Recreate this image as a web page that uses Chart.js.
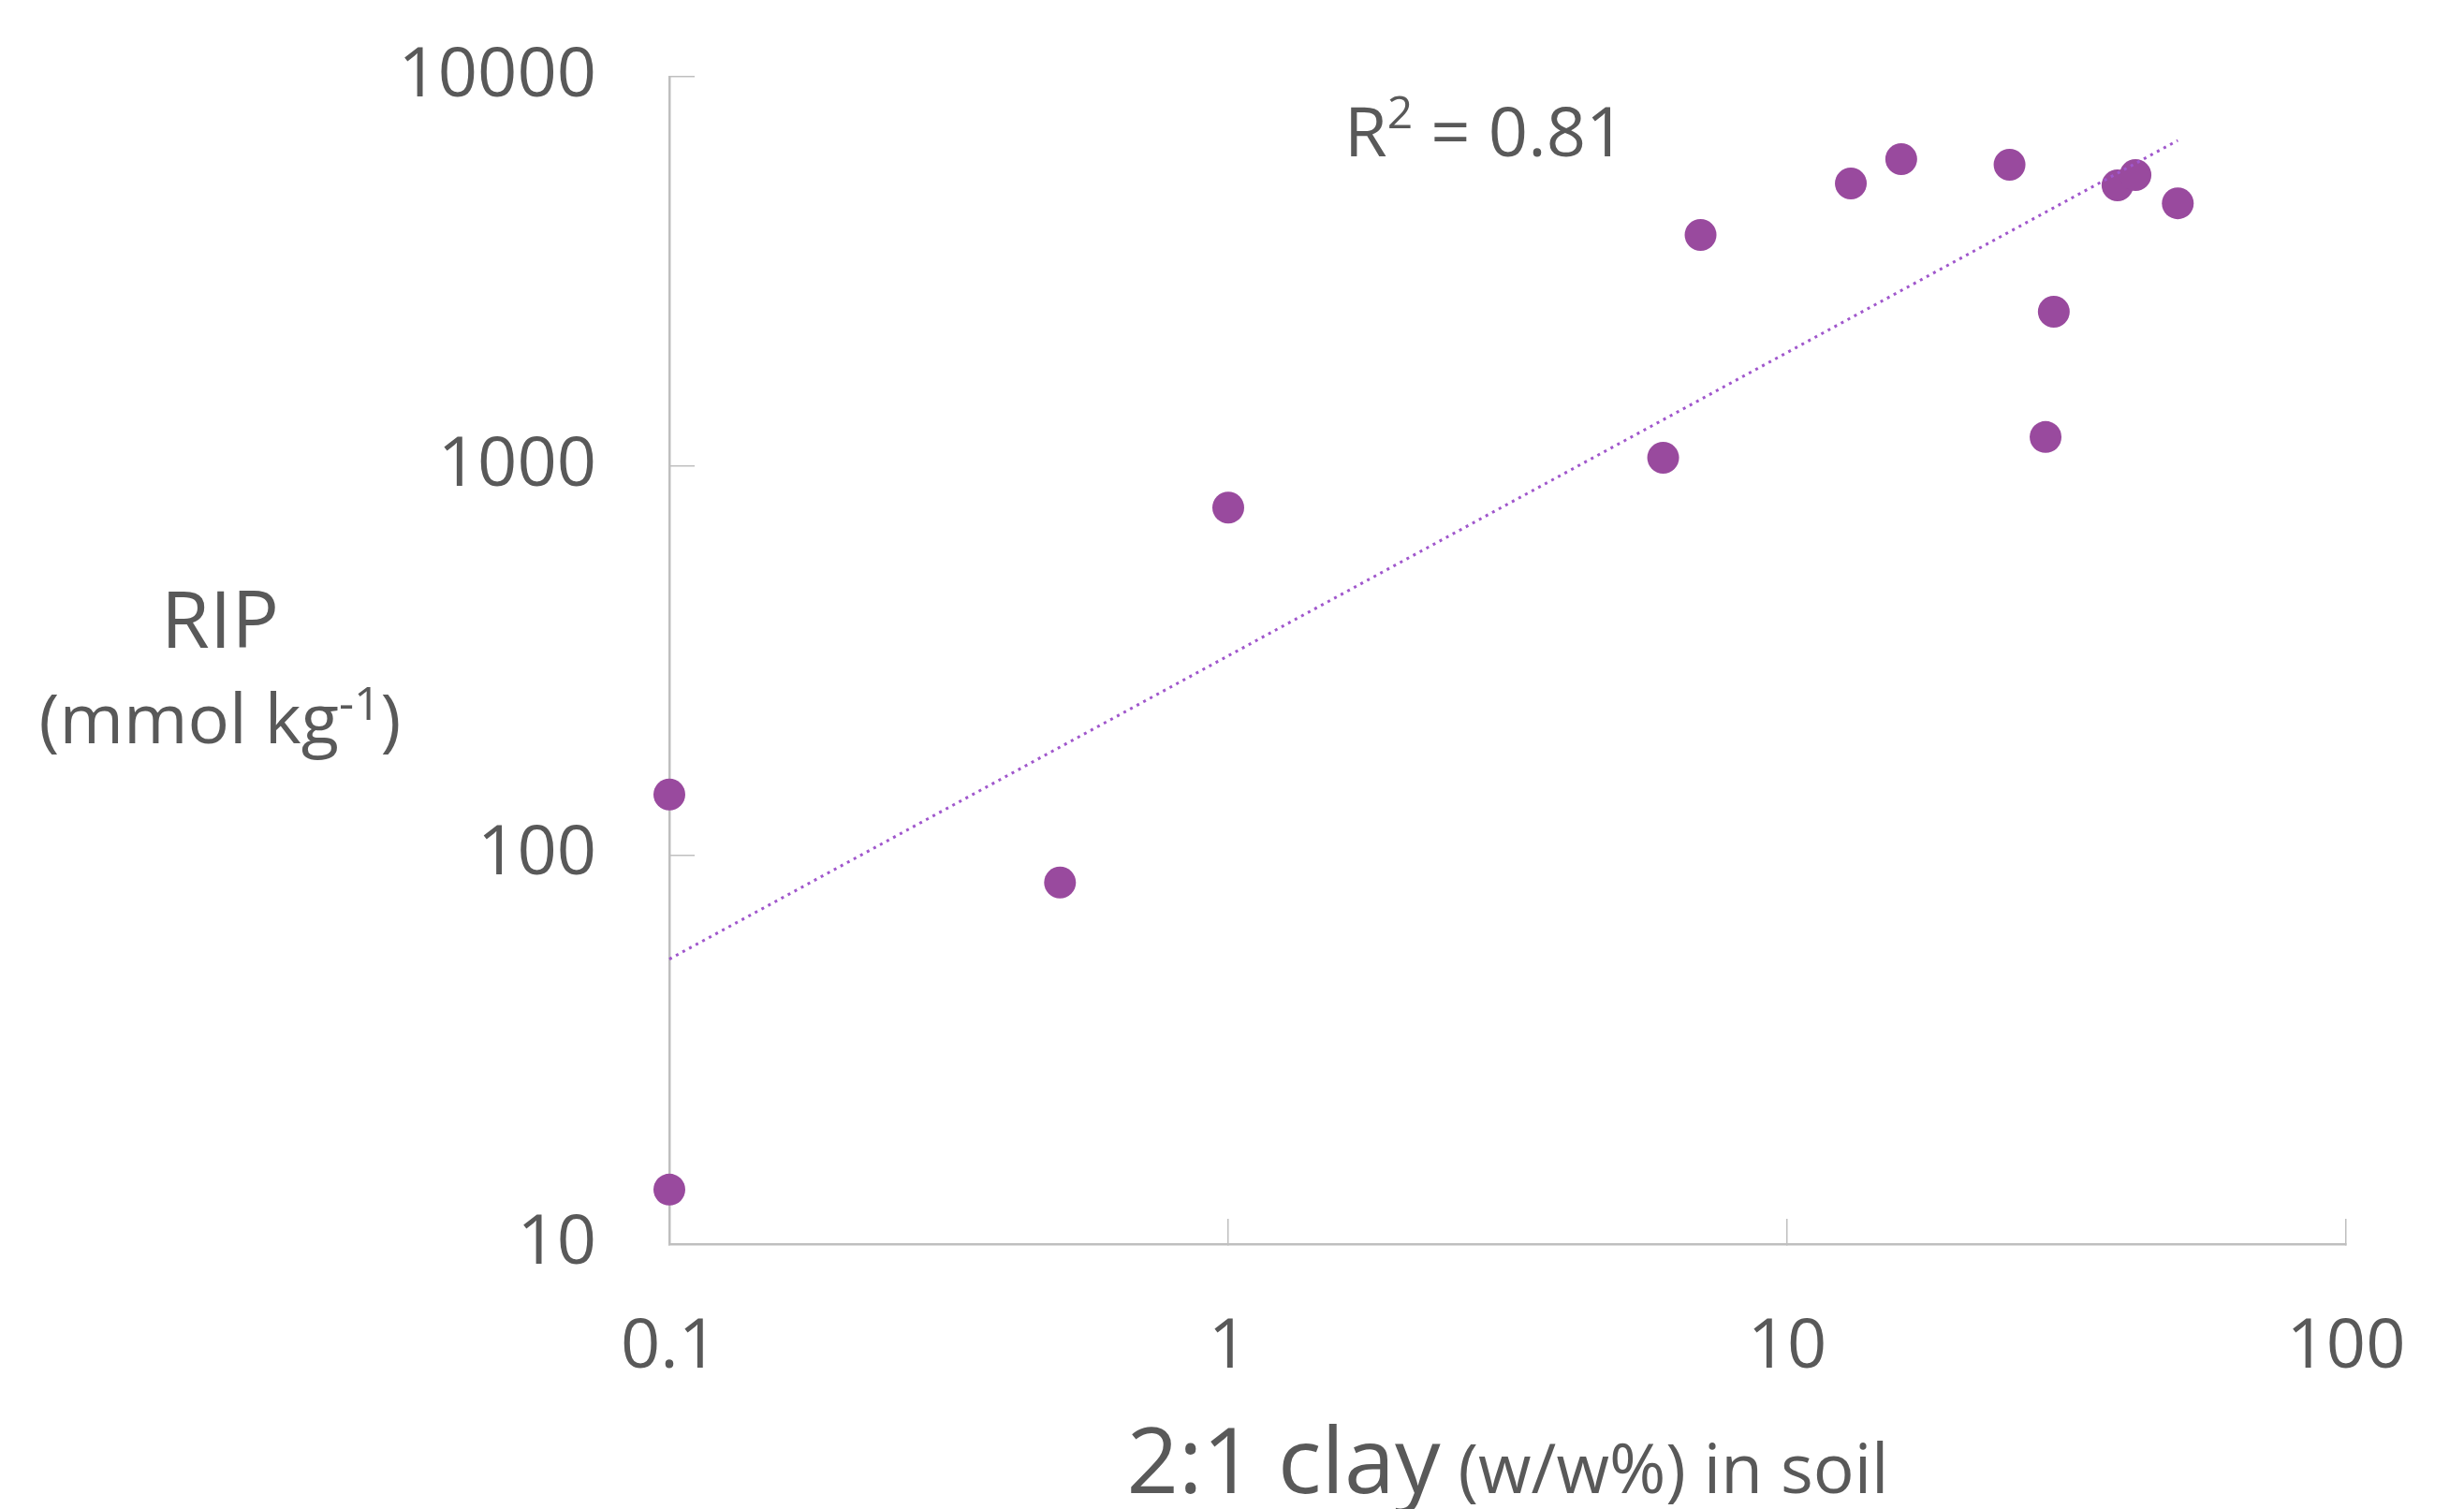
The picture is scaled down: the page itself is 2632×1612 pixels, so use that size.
<!DOCTYPE html>
<html>
<head>
<meta charset="utf-8">
<title>RIP vs 2:1 clay</title>
<script src="https://cdn.jsdelivr.net/npm/chart.js@4.4.1/dist/chart.umd.min.js"></script>
<style>
  html, body { margin: 0; padding: 0; background: #fff; }
  #wrap { width: 2632px; height: 1612px; }
</style>
</head>
<body>
<div id="wrap"><canvas id="chart" width="2632" height="1612"></canvas></div>
<script>
// values: 2:1 clay content (w/w%) and RIP (mmol kg-1)
const clayPct = [0.1, 0.1, 0.5, 1, 6, 7, 13, 16, 25, 29, 30, 39, 42, 50];
const ripValues = [143, 13.8, 85, 781, 1049, 3920, 5320, 6140, 5940, 1186, 2490, 5260, 5590, 4730];

// power trendline, both ends as drawn in the figure
const trendClay = [0.1, 50];
const trendRip = [54, 6860];

const xTicks = [0.1, 1, 10, 100];
const yTicks = [10, 100, 1000, 10000];
const r2Text = '0.81';

const FONT = "'Open Sans', 'Noto Sans', sans-serif";
const TEXT_COLOR = '#595959';
const AXIS_COLOR = '#BFBFBF';

// draws pieces of text of different sizes side by side
function drawRuns(ctx, runs, x, baseline, align) {
    let total = 0;
    runs.forEach(r => {
        ctx.font = r.size + 'px ' + FONT;
        r.w = ctx.measureText(r.text).width;
        total += r.w;
    });
    let cx = align === 'center' ? x - total / 2 : x;
    ctx.textAlign = 'left';
    ctx.textBaseline = 'alphabetic';
    runs.forEach(r => {
        ctx.font = r.size + 'px ' + FONT;
        ctx.fillText(r.text, cx, baseline - (r.rise || 0));
        cx += r.w;
    });
}

const axisText = {
    id: 'axisText',
    afterDraw(chart) {
        const ctx = chart.ctx;
        const area = chart.chartArea;
        ctx.save();
        ctx.fillStyle = TEXT_COLOR;

        // y title
        drawRuns(ctx, [{ text: 'RIP', size: 84 }], 235, 692, 'center');
        drawRuns(ctx, [
            { text: '(mmol kg', size: 74 },
            { text: '-1', size: 50, rise: 25 },
            { text: ')', size: 74 }
        ], 235, 794, 'center');

        // x title
        drawRuns(ctx, [
            { text: '2:1 clay', size: 97 },
            { text: ' (w/w%) in soil', size: 73 }
        ], (area.left + area.right) / 2, 1595, 'center');

        // R squared of the trendline
        drawRuns(ctx, [
            { text: 'R', size: 74 },
            { text: '2', size: 48, rise: 30 },
            { text: ' = ' + r2Text, size: 74 }
        ], 1436, 167, 'left');
        ctx.restore();
    }
};

function logAxis(min, max, ticks, position) {
    return {
        type: 'logarithmic',
        position: position,
        min: min,
        max: max,
        afterBuildTicks: scale => { scale.ticks = ticks.map(v => ({ value: v })); },
        afterFit: scale => {
            if (position === 'left') scale.width = 715;
            else scale.height = 283;
            // the layout padding already leaves room for the end labels
            scale.paddingTop = scale.paddingBottom = 0;
            scale.paddingLeft = scale.paddingRight = 0;
        },
        ticks: {
            autoSkip: false,
            maxRotation: 0,
            color: TEXT_COLOR,
            font: { family: FONT, size: 74 },
            padding: position === 'left' ? 105 : 94,
            callback: v => String(v)
        },
        grid: {
            drawOnChartArea: false,
            drawTicks: true,
            tickLength: -27,   // ticks point inward
            color: AXIS_COLOR,
            lineWidth: 1.5
        },
        border: { display: true, color: AXIS_COLOR, width: 2.5 }
    };
}

new Chart(document.getElementById('chart').getContext('2d'), {
    type: 'scatter',
    data: {
        datasets: [{
            // trendline first so that it is drawn over the points
            data: trendClay.map((x, i) => ({ x: x, y: trendRip[i] })),
            showLine: true,
            borderColor: '#A057CC',
            borderWidth: 3,
            borderDash: [3, 5],
            pointRadius: 0,
            fill: false,
            clip: false
        }, {
            data: clayPct.map((x, i) => ({ x: x, y: ripValues[i] })),
            backgroundColor: '#994A9E',
            borderWidth: 0,
            pointRadius: 17,
            pointHoverRadius: 17,
            clip: false
        }]
    },
    options: {
        responsive: false,
        animation: false,
        devicePixelRatio: 1,
        layout: {
            autoPadding: false,
            padding: { left: 0, right: 126, top: 82, bottom: 0 }
        },
        scales: {
            x: logAxis(0.1, 100, xTicks, 'bottom'),
            y: logAxis(10, 10000, yTicks, 'left')
        },
        plugins: {
            legend: { display: false },
            tooltip: { enabled: false }
        }
    },
    plugins: [axisText]
});
</script>
</body>
</html>
